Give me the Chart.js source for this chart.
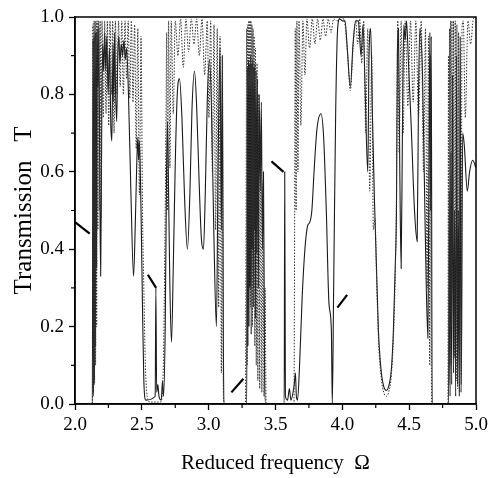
<!DOCTYPE html>
<html>
<head>
<meta charset="utf-8">
<script src="https://cdn.jsdelivr.net/npm/chart.js@4.4.0/dist/chart.umd.min.js"></script>
<style>
  html, body { margin: 0; padding: 0; background: #fff; }
  #wrap { width: 489px; height: 478px; }
</style>
</head>
<body>
<div id="wrap"><canvas id="grafico" width="489" height="478"></canvas></div>
<script>
// Ticks
var xTicks = [2.0, 2.5, 3.0, 3.5, 4.0, 4.5, 5.0];
var yTicks = [0.0, 0.2, 0.4, 0.6, 0.8, 1.0];
var xMinor = [2.25, 2.75, 3.25, 3.75, 4.25, 4.75];
var yMinor = [0.1, 0.3, 0.5, 0.7, 0.9];

// Solid curve [frequency, T]
var solidCurve = [
  [2.00,0],[2.13,0],[2.134,0.94],[2.138,0.03],[2.142,0.95],[2.146,0.06],[2.150,0.96],[2.154,0.15],
  [2.158,0.96],[2.162,0.35],[2.166,0.97],[2.172,0.82],[2.178,0.97],[2.186,0.55],[2.192,0.33],[2.200,0.72],
  [2.207,0.93],[2.214,0.86],[2.222,0.96],[2.230,0.86],[2.238,0.95],[2.248,0.80],[2.258,0.92],[2.268,0.72],
  [2.276,0.68],[2.284,0.93],[2.290,0.78],[2.296,0.96],[2.304,0.80],[2.312,0.73],[2.320,0.90],[2.328,0.95],
  [2.336,0.88],[2.346,0.93],[2.356,0.90],[2.366,0.94],[2.376,0.89],[2.386,0.92],[2.400,0.80],[2.418,0.55],
  [2.438,0.33],[2.450,0.45],[2.462,0.62],[2.470,0.69],[2.476,0.63],[2.482,0.68],[2.494,0.50],[2.505,0.25],
  [2.515,0.06],[2.53,0.01],[2.60,0.02],[2.605,0.30],[2.611,0.03],[2.62,0.05],[2.628,0.02],[2.645,0.01],
  [2.655,0.06],[2.662,0.02],[2.675,0.2],[2.685,0.6],[2.692,0.73],[2.70,0.55],[2.71,0.3],[2.722,0.16],
  [2.735,0.35],[2.75,0.62],[2.765,0.8],[2.782,0.84],[2.80,0.74],[2.82,0.53],[2.841,0.40],[2.86,0.55],
  [2.875,0.76],[2.894,0.86],[2.91,0.77],[2.93,0.56],[2.945,0.43],[2.961,0.40],[2.975,0.55],[2.99,0.79],
  [3.006,0.89],[3.02,0.78],[3.04,0.42],[3.058,0.20],[3.07,0.6],[3.085,0.92],[3.095,0.45],[3.102,0.9],
  [3.11,0.15],[3.118,0],[3.285,0],[3.290,0.87],[3.294,0.15],[3.298,0.89],[3.302,0.2],[3.306,0.88],
  [3.310,0.3],[3.314,0.9],[3.318,0.18],[3.322,0.88],[3.326,0.4],[3.330,0.89],[3.334,0.25],[3.338,0.87],
  [3.342,0.45],[3.346,0.88],[3.350,0.22],[3.355,0.86],[3.360,0.39],[3.366,0.84],[3.372,0.30],[3.378,0.80],
  [3.386,0.55],[3.394,0.78],[3.402,0.4],[3.41,0.6],[3.418,0.1],[3.425,0],[3.565,0],[3.569,0.60],
  [3.574,0.02],[3.59,0.01],[3.604,0.04],[3.615,0.01],[3.64,0.05],[3.649,0.08],[3.656,0.02],[3.665,0.01],
  [3.68,0.1],[3.70,0.28],[3.72,0.40],[3.74,0.46],[3.757,0.47],[3.772,0.5],[3.79,0.61],[3.81,0.71],
  [3.84,0.75],[3.86,0.69],[3.88,0.50],[3.90,0.26],[3.918,0.19],[3.925,0],[3.935,0.3],[3.95,0.75],
  [3.965,0.97],[3.98,0.995],[4.00,0.99],[4.02,0.99],[4.035,0.93],[4.06,0.82],[4.08,0.93],[4.10,0.99],
  [4.12,0.99],[4.14,0.9],[4.155,0.98],[4.17,0.82],[4.19,0.6],[4.20,0.9],[4.212,0.97],[4.225,0.75],
  [4.24,0.53],[4.255,0.36],[4.27,0.19],[4.292,0.08],[4.31,0.045],[4.33,0.035],[4.35,0.05],[4.367,0.09],
  [4.382,0.19],[4.397,0.37],[4.405,0.5],[4.412,0.9],[4.42,0.97],[4.43,0.6],[4.44,0.35],[4.45,0.72],
  [4.46,0.98],[4.47,0.94],[4.48,0.99],[4.495,0.88],[4.515,0.72],[4.54,0.5],[4.56,0.42],[4.57,0.8],
  [4.58,0.97],[4.60,0.85],[4.62,0.45],[4.64,0.17],[4.648,0.6],[4.655,0.96],[4.66,0.5],[4.665,0.95],
  [4.672,0],[4.795,0],[4.80,0.55],[4.806,0.02],[4.812,0.65],[4.818,0.05],[4.825,0.85],[4.832,0.08],
  [4.84,0.5],[4.848,0.02],[4.855,0.9],[4.862,0.05],[4.868,0.5],[4.875,0.02],[4.882,0.95],[4.888,0.03],
  [4.893,0.2],[4.90,0.70],[4.912,0.67],[4.935,0.55],[4.952,0.60],[4.975,0.63],[5.0,0.61]
];

// Dotted curve [frequency, T]
var dottedCurve = [
  [2.00,0],[2.13,0],[2.134,0.98],[2.138,0.02],[2.142,0.99],[2.146,0.05],[2.150,0.99],[2.154,0.1],
  [2.158,0.99],[2.162,0.2],[2.166,0.99],[2.171,0.45],[2.176,0.99],[2.182,0.50],[2.188,0.99],[2.195,0.48],
  [2.202,0.99],[2.212,0.74],[2.222,0.99],[2.232,0.75],[2.242,0.99],[2.252,0.72],[2.262,0.99],[2.272,0.80],
  [2.282,0.99],[2.292,0.70],[2.302,0.99],[2.314,0.80],[2.326,0.99],[2.338,0.82],[2.350,0.99],[2.362,0.80],
  [2.374,0.99],[2.386,0.84],[2.398,0.99],[2.410,0.79],[2.422,0.99],[2.434,0.78],[2.446,0.98],[2.458,0.66],
  [2.470,0.97],[2.482,0.54],[2.494,0.95],[2.505,0.5],[2.515,0.3],[2.525,0.12],[2.54,0.02],[2.56,0.005],
  [2.64,0.005],[2.652,0.02],[2.662,0.12],[2.672,0.40],[2.68,0.7],[2.686,0.96],[2.692,0.5],[2.70,0.99],
  [2.71,0.61],[2.72,0.99],[2.735,0.75],[2.75,0.99],[2.77,0.90],[2.79,0.995],[2.81,0.87],[2.83,0.995],
  [2.85,0.91],[2.87,0.995],[2.89,0.93],[2.91,0.995],[2.93,0.90],[2.95,0.995],[2.97,0.85],[2.99,0.99],
  [3.002,0.74],[3.015,0.99],[3.028,0.6],[3.04,0.98],[3.052,0.45],[3.064,0.97],[3.075,0.25],[3.085,0.95],
  [3.095,0.08],[3.103,0.9],[3.11,0.02],[3.12,0],[3.275,0],[3.28,0.5],[3.284,0.97],[3.288,0.1],
  [3.292,0.98],[3.296,0.2],[3.300,0.99],[3.304,0.3],[3.308,0.99],[3.312,0.25],[3.316,0.99],[3.320,0.35],
  [3.324,0.98],[3.328,0.2],[3.332,0.97],[3.336,0.3],[3.340,0.95],[3.345,0.15],[3.350,0.92],[3.356,0.1],
  [3.362,0.88],[3.368,0.06],[3.375,0.8],[3.382,0.04],[3.39,0.7],[3.398,0.03],[3.406,0.55],[3.414,0.02],
  [3.422,0.3],[3.43,0],[3.638,0],[3.643,0.45],[3.648,0.97],[3.654,0.5],[3.66,0.99],[3.668,0.6],
  [3.676,0.99],[3.69,0.72],[3.705,0.99],[3.72,0.85],[3.735,0.995],[3.755,0.92],[3.775,0.995],[3.795,0.93],
  [3.815,0.995],[3.835,0.94],[3.855,0.995],[3.875,0.95],[3.895,0.995],[3.915,0.96],[3.935,0.995],[3.96,0.99],
  [3.99,1.0],[4.02,0.98],[4.04,0.9],[4.06,0.81],[4.08,0.92],[4.10,0.99],[4.115,0.93],[4.13,0.995],
  [4.145,0.88],[4.16,0.99],[4.175,0.7],[4.19,0.97],[4.205,0.55],[4.22,0.9],[4.232,0.45],[4.245,0.48],
  [4.255,0.34],[4.27,0.17],[4.292,0.065],[4.31,0.03],[4.33,0.02],[4.35,0.035],[4.367,0.075],[4.382,0.17],
  [4.397,0.35],[4.405,0.55],[4.41,0.85],[4.415,0.99],[4.425,0.65],[4.44,0.99],[4.455,0.7],[4.47,0.99],
  [4.49,0.77],[4.51,0.99],[4.53,0.78],[4.55,0.99],[4.57,0.74],[4.59,0.99],[4.608,0.6],[4.622,0.97],
  [4.634,0.3],[4.645,0.95],[4.654,0.1],[4.66,0.9],[4.668,0],[4.79,0],[4.794,0.9],[4.798,0.05],
  [4.802,0.97],[4.806,0.1],[4.81,0.99],[4.815,0.2],[4.82,0.99],[4.826,0.3],[4.832,0.99],[4.838,0.12],
  [4.845,0.99],[4.851,0.06],[4.857,0.98],[4.863,0.04],[4.87,0.96],[4.876,0.03],[4.883,0.92],[4.889,0.05],
  [4.895,0.97],[4.905,0.99],[4.92,0.74],[4.94,0.99],[4.96,0.93],[4.98,0.995],[5.0,1.0]
];

// Short thick strokes marking the band edges
var edgeMarks = [
  [[2.0,0.47],[2.11,0.44]],
  [[2.545,0.334],[2.607,0.30]],
  [[3.17,0.03],[3.26,0.065]],
  [[3.47,0.627],[3.56,0.60]],
  [[3.963,0.249],[4.036,0.282]]
];

function aPuntos(lista) {
  return lista.map(function(p) { return { x: p[0], y: p[1] }; });
}

var marcasData = [];
edgeMarks.forEach(function(seg) {
  marcasData.push({ x: seg[0][0], y: seg[0][1] });
  marcasData.push({ x: seg[1][0], y: seg[1][1] });
  marcasData.push({ x: seg[1][0] + 0.0001, y: null });
});

// Frame on top and right, plus short minor ticks
var marcoPlugin = {
  id: 'marco',
  afterDraw: function(chart) {
    var ctx = chart.ctx;
    var a = chart.chartArea;
    var sx = chart.scales.x, sy = chart.scales.y;
    ctx.save();
    ctx.strokeStyle = '#000';
    ctx.lineWidth = 1.5;
    ctx.strokeRect(a.left, a.top, a.right - a.left, a.bottom - a.top);
    ctx.lineWidth = 1.2;
    ctx.beginPath();
    xMinor.forEach(function(v) {
      var px = sx.getPixelForValue(v);
      ctx.moveTo(px, a.bottom);
      ctx.lineTo(px, a.bottom + 4);
    });
    yMinor.forEach(function(v) {
      var py = sy.getPixelForValue(v);
      ctx.moveTo(a.left, py);
      ctx.lineTo(a.left - 4, py);
    });
    ctx.stroke();
    ctx.restore();
  }
};

Chart.defaults.font.family = "'Liberation Serif', 'DejaVu Serif', serif";
Chart.defaults.color = '#000';

var ctx = document.getElementById('grafico').getContext('2d');
new Chart(ctx, {
  type: 'line',
  data: {
    datasets: [
      {
        label: 'dotted',
        data: aPuntos(dottedCurve),
        borderColor: '#333',
        borderWidth: 1,
        borderDash: [1.5, 1.5],
        pointRadius: 0,
        cubicInterpolationMode: 'monotone',
        fill: false
      },
      {
        label: 'solid',
        data: aPuntos(solidCurve),
        borderColor: '#1a1a1a',
        borderWidth: 1.1,
        pointRadius: 0,
        cubicInterpolationMode: 'monotone',
        fill: false
      },
      {
        label: 'marks',
        data: marcasData,
        borderColor: '#000',
        borderWidth: 2.2,
        pointRadius: 0,
        spanGaps: false,
        tension: 0,
        fill: false
      }
    ]
  },
  options: {
    responsive: false,
    animation: false,
    devicePixelRatio: 1,
    layout: { padding: { top: 17, right: 13, left: 0, bottom: 0 } },
    plugins: {
      legend: { display: false },
      tooltip: { enabled: false }
    },
    scales: {
      x: {
        type: 'linear',
        min: 2.0,
        max: 5.0,
        afterBuildTicks: function(s) { s.ticks = xTicks.map(function(v) { return { value: v }; }); },
        afterFit: function(s) { s.height = 74; s.paddingRight = 0; s.paddingLeft = 0; },
        grid: { drawOnChartArea: false, drawTicks: true, tickLength: 6, tickColor: '#000', tickWidth: 1.3 },
        border: { color: '#000', width: 1.5 },
        ticks: {
          autoSkip: false,
          maxRotation: 0,
          padding: 4,
          font: { size: 19 },
          callback: function(v) { return Number(v).toFixed(1); }
        },
        title: {
          display: true,
          text: 'Reduced frequency  \u03A9',
          font: { size: 21 },
          padding: { top: 0, bottom: 2 }
        }
      },
      y: {
        min: 0,
        max: 1,
        afterBuildTicks: function(s) { s.ticks = yTicks.map(function(v) { return { value: v }; }); },
        afterFit: function(s) { s.width = 75; },
        grid: { drawOnChartArea: false, drawTicks: true, tickLength: 6, tickColor: '#000', tickWidth: 1.3 },
        border: { color: '#000', width: 1.5 },
        ticks: {
          padding: 5,
          font: { size: 19 },
          callback: function(v) { return Number(v).toFixed(1); }
        },
        title: {
          display: true,
          text: 'Transmission   T',
          font: { size: 25 },
          padding: { top: 9, bottom: 0 }
        }
      }
    }
  },
  plugins: [marcoPlugin]
});
</script>
</body>
</html>
